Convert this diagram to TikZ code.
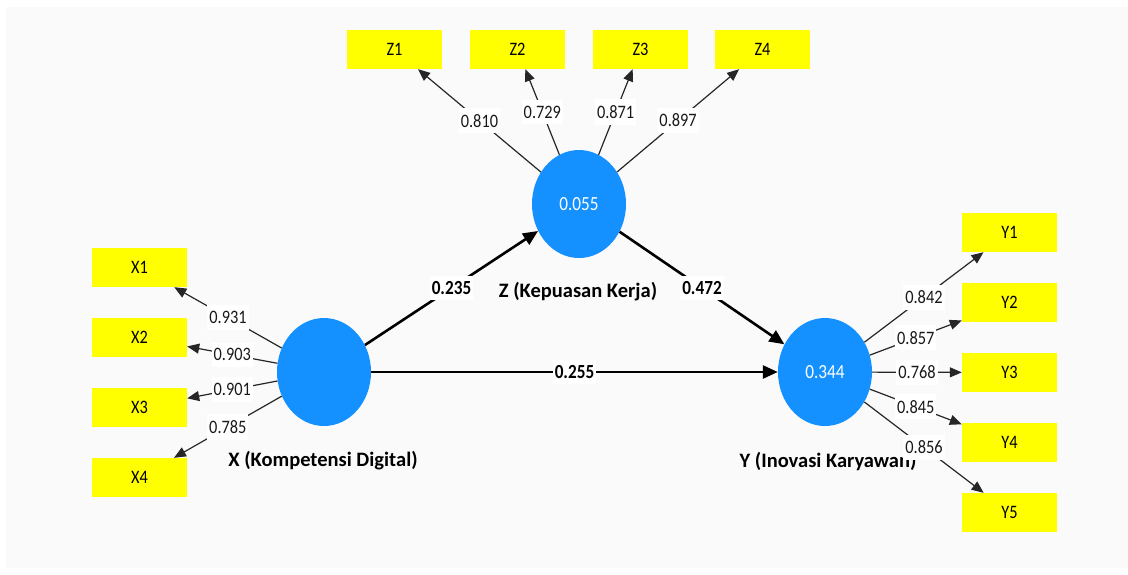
\documentclass[tikz,border=0pt]{standalone}
\usepackage{fontspec}
\setmainfont{Carlito}
\newfontfamily\narrowfont[FakeStretch=0.86]{Carlito}
\usetikzlibrary{arrows.meta,shapes.geometric}
\definecolor{latentblue}{RGB}{20,145,255}
\definecolor{panelgray}{RGB}{250,250,250}
\definecolor{itemyellow}{RGB}{255,255,0}
\begin{document}
\begin{tikzpicture}[x=1pt,y=-1pt,
  latent/.style={ellipse,fill=latentblue,minimum width=94pt,minimum height=108pt,
    inner sep=0pt,text=white,font=\narrowfont\fontsize{20}{22}\selectfont},
  indicator/.style={rectangle,fill=itemyellow,minimum width=95pt,minimum height=39pt,
    inner sep=0pt,font=\narrowfont\fontsize{19}{21}\selectfont},
  loading/.style={draw=black!85,line width=1.2pt,-{Triangle[length=12pt,width=10pt]}},
  structural/.style={draw=black,line width=2.6pt,-{Triangle[length=15pt,width=13pt]}},
  wt/.style={fill=white,inner xsep=2pt,inner ysep=6pt,
    font=\narrowfont\fontsize{19}{21}\selectfont,text=black!90},
  coef/.style={fill=white,inner xsep=2pt,inner ysep=5pt,
    font=\narrowfont\bfseries\fontsize{20}{22}\selectfont},
  title/.style={font=\bfseries\fontsize{20.5}{23}\selectfont}
]
\useasboundingbox (0,0) rectangle (1128,574);
\fill[white] (0,0) rectangle (1128,574);
\fill[panelgray] (6,7) rectangle (1128,568);

% latent variables
\node[latent] (Z) at (579,204) {0.055};
\node[latent] (X) at (324,372) {};
\node[latent] (Y) at (825,372) {0.344};

% construct names
\node[title] (Xt) at (323,461) {X (Kompetensi Digital)};
\node[title] (Zt) at (578,292) {Z (Kepuasan Kerja)};
\node[title] (Yt) at (828,461) {Y (Inovasi Karyawan)};

% indicators
\node[indicator] (Z1) at (394.5,49.5) {Z1};
\node[indicator] (Z2) at (517.5,49.5) {Z2};
\node[indicator] (Z3) at (640.5,49.5) {Z3};
\node[indicator] (Z4) at (762.5,49.5) {Z4};
\node[indicator] (X1) at (139.5,267.5) {X1};
\node[indicator] (X2) at (139.5,337.5) {X2};
\node[indicator] (X3) at (139.5,407.5) {X3};
\node[indicator] (X4) at (139.5,477.5) {X4};
\node[indicator] (Y1) at (1009.5,232.5) {Y1};
\node[indicator] (Y2) at (1009.5,302.5) {Y2};
\node[indicator] (Y3) at (1009.5,372.5) {Y3};
\node[indicator] (Y4) at (1009.5,442.5) {Y4};
\node[indicator] (Y5) at (1009.5,512.5) {Y5};

% outer loadings
\draw[loading] (Z) -- node[wt]{0.810} (Z1);
\draw[loading] (Z) -- node[wt]{0.729} (Z2);
\draw[loading] (Z) -- node[wt]{0.871} (Z3);
\draw[loading] (Z) -- node[wt]{0.897} (Z4);
\draw[loading] (X) -- node[wt]{0.931} (X1);
\draw[loading] (X) -- node[wt]{0.903} (X2);
\draw[loading] (X) -- node[wt]{0.901} (X3);
\draw[loading] (X) -- node[wt]{0.785} (X4);
\draw[loading] (Y) -- node[wt]{0.842} (Y1);
\draw[loading] (Y) -- node[wt]{0.857} (Y2);
\draw[loading] (Y) -- node[wt]{0.768} (Y3);
\draw[loading] (Y) -- node[wt]{0.845} (Y4);
\draw[loading] (Y) -- node[wt]{0.856} (Y5);

% path coefficients
\draw[structural] (X) -- node[coef]{0.235} (Z);
\draw[structural] (Z) -- node[coef]{0.472} (Y);
\draw[structural] (X) -- node[coef]{0.255} (Y);
\end{tikzpicture}
\end{document}
